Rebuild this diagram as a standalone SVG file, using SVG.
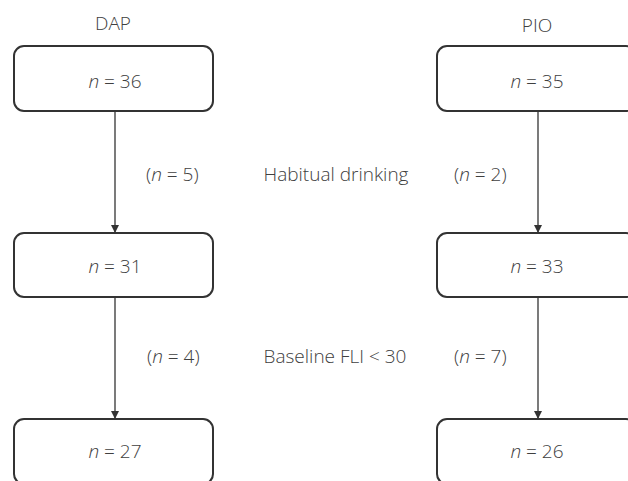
<svg xmlns="http://www.w3.org/2000/svg" width="628" height="481" viewBox="0 0 628 481">
<style>
text{font-family:"Open Sans","Liberation Sans",sans-serif;font-size:19px;font-weight:300;fill:#404040;}
.c{text-anchor:middle;}
.i{font-style:italic;}
.box{fill:#fff;stroke:#333;stroke-width:2;}
.ln{stroke:#333;stroke-width:1.3;fill:none;marker-end:url(#ah);}
</style>
<defs>
<marker id="ah" viewBox="0 0 10 10" refX="10" refY="5" markerWidth="8" markerHeight="8" markerUnits="userSpaceOnUse" orient="auto">
<path d="M0,0 L10,5 L0,10 z" fill="#333"/>
</marker>
</defs>
<rect width="628" height="481" fill="#fff"/>
<text class="c" x="113" y="30">DAP</text>
<text class="c" x="537" y="32">PIO</text>
<g id="connectors">
<line class="ln" x1="115" y1="111" x2="115" y2="233"/>
<line class="ln" x1="115" y1="297" x2="115" y2="419"/>
<line class="ln" x1="538" y1="111" x2="538" y2="233"/>
<line class="ln" x1="538" y1="297" x2="538" y2="419"/>
</g>
<g id="dap1"><rect class="box" x="14" y="46" width="199" height="65" rx="10"/><text class="c" x="115" y="88"><tspan class="i">n</tspan> = 36</text></g>
<g id="dap2"><rect class="box" x="14" y="233" width="199" height="64" rx="10"/><text class="c" x="115" y="273"><tspan class="i">n</tspan> = 31</text></g>
<g id="dap3"><rect class="box" x="14" y="419" width="199" height="65" rx="10"/><text class="c" x="115" y="458"><tspan class="i">n</tspan> = 27</text></g>
<g id="pio1"><rect class="box" x="437" y="46" width="199" height="65" rx="10"/><text class="c" x="537" y="88"><tspan class="i">n</tspan> = 35</text></g>
<g id="pio2"><rect class="box" x="437" y="233" width="199" height="64" rx="10"/><text class="c" x="537" y="273"><tspan class="i">n</tspan> = 33</text></g>
<g id="pio3"><rect class="box" x="437" y="419" width="199" height="65" rx="10"/><text class="c" x="537" y="458"><tspan class="i">n</tspan> = 26</text></g>
<g id="labels">
<text x="146" y="181">(<tspan class="i">n</tspan> = 5)</text>
<text class="c" x="336" y="181">Habitual drinking</text>
<text x="454" y="181">(<tspan class="i">n</tspan> = 2)</text>
<text x="147" y="363">(<tspan class="i">n</tspan> = 4)</text>
<text class="c" x="335" y="363">Baseline FLI &lt; 30</text>
<text x="454" y="363">(<tspan class="i">n</tspan> = 7)</text>
</g>
</svg>
